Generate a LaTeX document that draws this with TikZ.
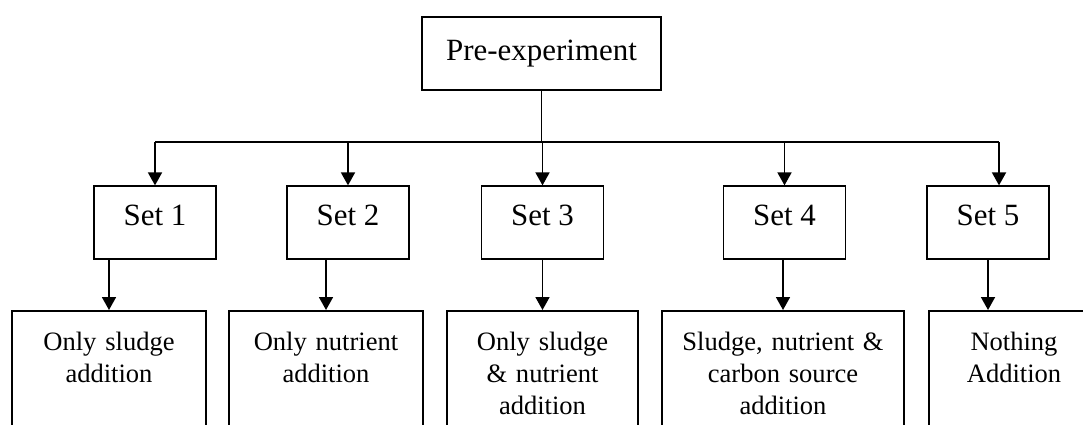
\documentclass[tikz,border=0pt]{standalone}
\usepackage{fontspec}
\setmainfont{Liberation Serif}
\usetikzlibrary{arrows.meta}
\newcommand{\stagefont}{\fontsize{17.6}{21}\selectfont}
\newcommand{\resultfont}{\fontsize{15.1}{18.2}\selectfont}
\tikzset{
  stagebox/.style={draw, line width=1pt, minimum width=2.44cm, inner xsep=0pt,
    text height=0.434cm, text depth=0.334cm, inner ysep=0.346cm, font=\stagefont},
  resultbox/.style={draw, line width=1pt, anchor=north, align=center, text width=#1,
    inner xsep=0pt, inner ysep=0.426cm, text height=0.364cm, text depth=1.9cm, font=\resultfont},
  link/.style={line width=1pt, -{Triangle[length=0.26cm,width=0.28cm]}}
}

\begin{document}
\begin{tikzpicture}
\useasboundingbox (0,0) rectangle (21.66,-8.48);
\clip (0,0) rectangle (21.66,-8.48);
\node[draw, line width=1pt, minimum width=4.78cm, minimum height=1.46cm, font=\stagefont] (pre) at (10.83,-1.07) {Pre-experiment};
% the five sets
\node[stagebox] (s1) at (3.10,-4.455) {Set 1};
\node[stagebox] (s2) at (6.96,-4.455) {Set 2};
\node[stagebox] (s3) at (10.85,-4.455) {Set 3};
\node[stagebox] (s4) at (15.69,-4.455) {Set 4};
\node[stagebox] (s5) at (19.76,-4.455) {Set 5};
% what each set gets
\node[resultbox=3.88cm] (b1) at (2.18,-6.2) {Only sludge\\addition};
\node[resultbox=3.88cm] (b2) at (6.52,-6.2) {Only nutrient\\addition};
\node[resultbox=3.82cm] (b3) at (10.85,-6.2) {Only sludge\\\& nutrient\\addition};
\node[resultbox=4.84cm] (b4) at (15.66,-6.2) {Sludge, nutrient \&\\carbon source\\addition};
\node[resultbox=3.4cm] (b5) at (20.28,-6.2) {Nothing\\Addition};
\coordinate (bus) at (10.83,-2.84);
\coordinate (s5in) at ([xshift=0.22cm]s5.north);
\draw[line width=1pt] (pre.south) -- (bus);
\draw[line width=1pt] (s1.north |- bus) -- (s5in |- bus);
\draw[link] (s1.north |- bus) -- (s1.north);
\draw[link] (s2.north |- bus) -- (s2.north);
\draw[link] (s3.north |- bus) -- (s3.north);
\draw[link] (s4.north |- bus) -- (s4.north);
\draw[link] (s5in |- bus) -- (s5in);
\draw[link] (s1.south -| b1.north) -- (b1.north);
\draw[link] (s2.south -| b2.north) -- (b2.north);
\draw[link] (s3.south) -- (b3.north);
\draw[link] (s4.south -| b4.north) -- (b4.north);
\draw[link] (s5.south) -- (s5.south |- b5.north);
\end{tikzpicture}
\end{document}
